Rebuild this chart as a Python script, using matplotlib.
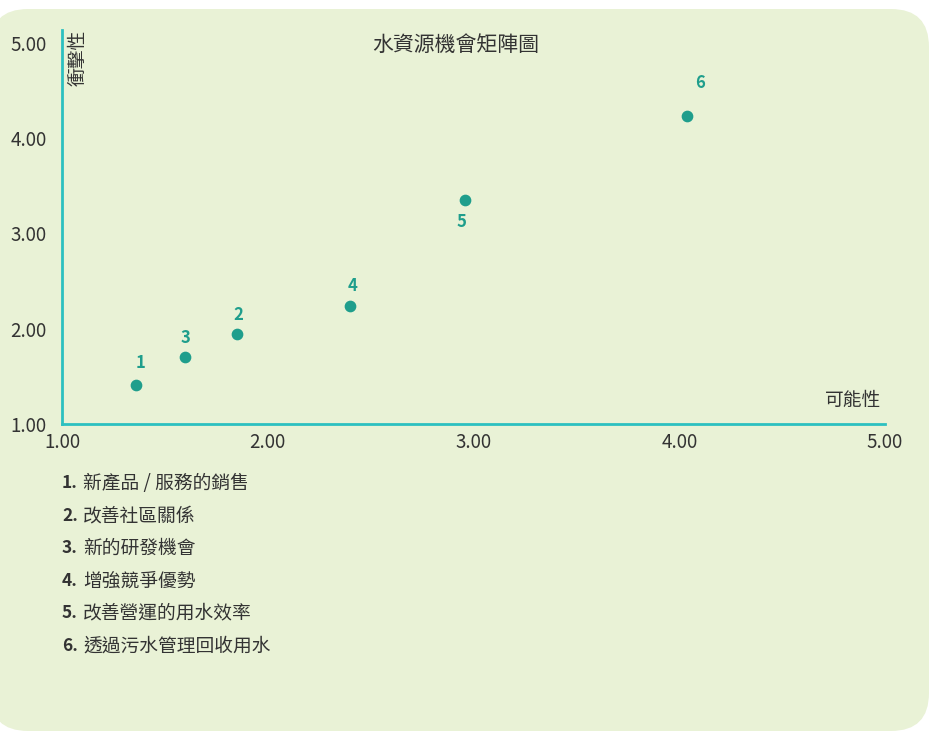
import matplotlib
matplotlib.use('Agg')
import matplotlib.pyplot as plt
from matplotlib.patches import FancyBboxPatch

plt.rcParams['font.family'] = ['Noto Sans CJK TC', 'DejaVu Sans']

# 資料
ids = ['1', '2', '3', '4', '5', '6']
possibility = [1.36, 1.85, 1.60, 2.40, 2.96, 4.04]   # 可能性
impact = [1.41, 1.94, 1.70, 2.24, 3.35, 4.23]        # 衝擊性
items = ['新產品 / 服務的銷售', '改善社區關係', '新的研發機會',
         '增強競爭優勢', '改善營運的用水效率', '透過污水管理回收用水']
ticks = [1, 2, 3, 4, 5]

# 標籤位移 (points)
label_offsets = [(3, 16), (1, 14), (0, 14), (2, 14), (-3, -16), (9, 24)]

teal = '#1f9e8c'
line_col = '#2cc0c0'
text_col = '#333333'
bg = '#e9f2d6'

W, H = 931, 732
fig = plt.figure(figsize=(W / 100, H / 100), dpi=100, facecolor='white')

# 背景圓角面板
bgax = fig.add_axes([0, 0, 1, 1], zorder=0)
bgax.set_xlim(0, W)
bgax.set_ylim(H, 0)
bgax.axis('off')
panel = FancyBboxPatch((-10, 9), W + 9 - 1, H - 10, boxstyle='round,pad=0,rounding_size=38',
                       fc=bg, ec='none')
bgax.add_patch(panel)

# 主圖
ax = fig.add_axes([62 / W, (H - 424) / H, 823 / W, (424 - 30) / H], zorder=1)
ax.patch.set_alpha(0)
ax.set_xlim(1, 5)
ax.set_ylim(1, 1 + (424 - 30) / 95.3)
ax.set_xticks(ticks)
ax.set_yticks(ticks)
ax.set_xticklabels(['%.2f' % t for t in ticks])
ax.set_yticklabels(['%.2f' % t for t in ticks])
ax.tick_params(length=0, labelsize=13.5, colors=text_col, pad=6)
ax.tick_params(axis='y', pad=11)
for s in ['top', 'right']:
    ax.spines[s].set_visible(False)
for s in ['left', 'bottom']:
    ax.spines[s].set_color(line_col)
    ax.spines[s].set_linewidth(2)

ax.scatter(possibility, impact, s=55, color=teal, zorder=3, clip_on=False)
for i, lab in enumerate(ids):
    ax.annotate(lab, (possibility[i], impact[i]), xytext=label_offsets[i],
                textcoords='offset points', ha='center', va='center',
                fontsize=12, fontweight='bold', color=teal)

bgax.text(456, 45, '水資源機會矩陣圖', ha='center', va='center',
          fontsize=15, color=text_col)
ax.text(6 / 823, 1.0, '衝擊性', transform=ax.transAxes, rotation=90,
        ha='left', va='top', fontsize=13.5, color=text_col)
ax.text(1.0 - 4 / 823, 24 / 394, '可能性', transform=ax.transAxes,
        ha='right', va='center', fontsize=13.5, color=text_col)

# 說明清單
for i, txt in enumerate(items):
    y = 483 + i * 32.6
    bgax.text(62, y, ids[i] + '.', ha='left', va='center', fontsize=12.5,
              fontweight='bold', color=text_col)
    bgax.text(83, y, txt, ha='left', va='center', fontsize=13.5, color=text_col)

fig.savefig('out.png', dpi=100, facecolor='white')
